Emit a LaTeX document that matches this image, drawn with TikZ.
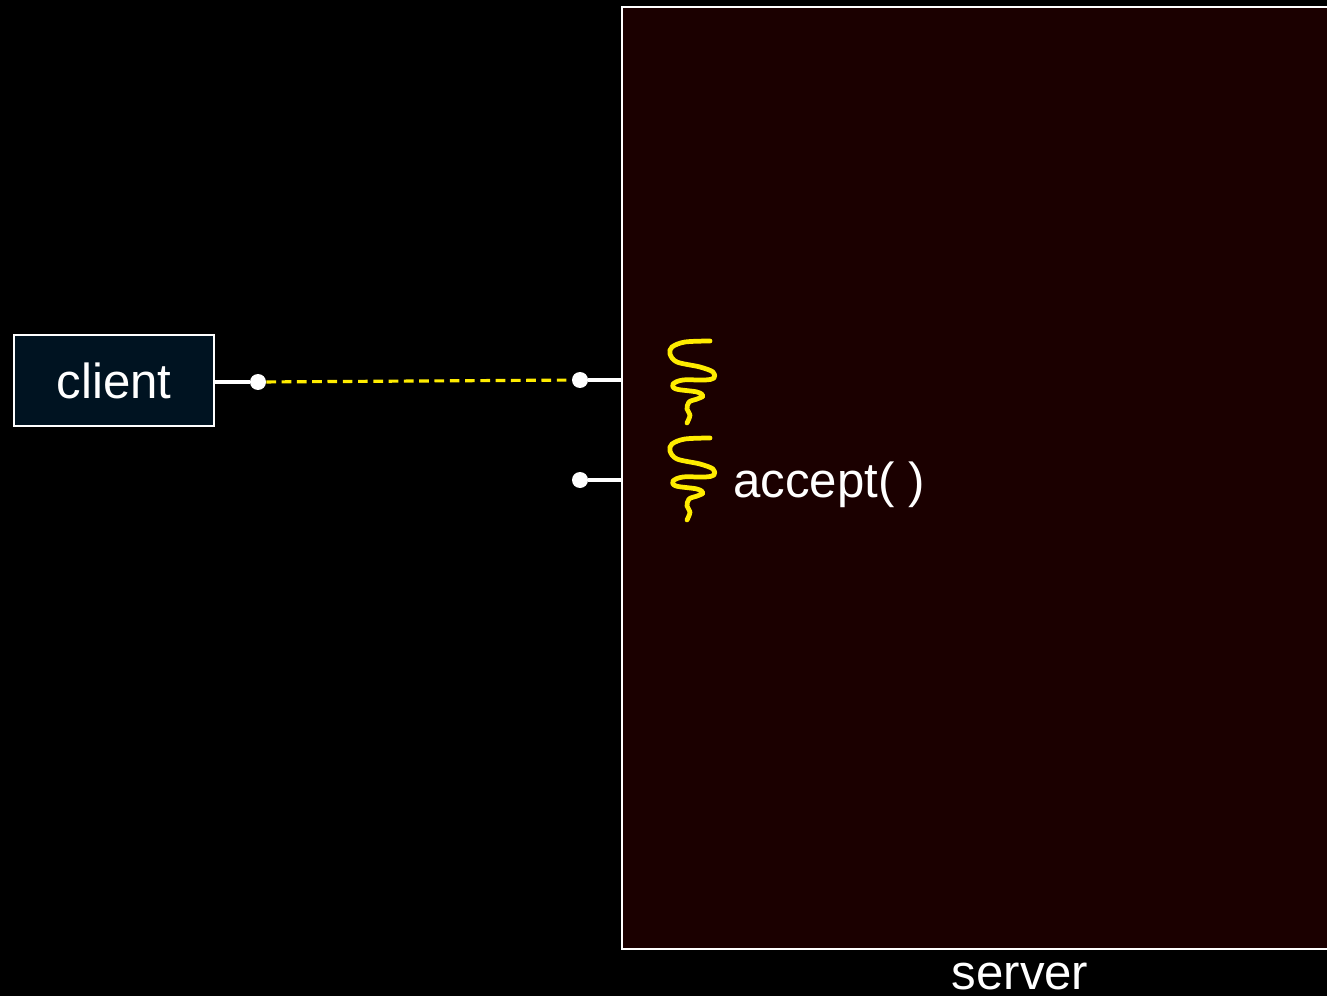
\documentclass[tikz,border=0pt]{standalone}
\usepackage{fontspec}
\setmainfont{Liberation Sans}
\definecolor{serverred}{RGB}{27,0,0}
\definecolor{clientblue}{RGB}{0,19,33}
\definecolor{threadyellow}{RGB}{255,236,0}
\begin{document}
\begin{tikzpicture}[x=0.02cm,y=-0.02cm,
    label/.style={text=white, font=\fontsize{28}{34}\selectfont},
    box/.style={draw=white, line width=1.1pt, inner sep=0pt},
    dot/.style={shape=circle, fill=white, minimum size=0.32cm, inner sep=0pt},
    wire/.style={white, line width=2pt},
    thread/.style={threadyellow, line width=2.7pt, line cap=round, line join=round}]
        \clip (0,0) rectangle (1327,996);
        \fill[black] (0,0) rectangle (1327,996);

        \node [box, fill=serverred, minimum width=14.26cm, minimum height=18.84cm] (server) at (978.5,478){};
        \node [label, anchor=base] at (1020,989) {server};
        \node [box, fill=clientblue, minimum width=4cm, minimum height=1.82cm, label] (client) at (114,380.5){client};

        \node [dot] (c1) at (258,382){};
        \node [dot] (s1) at (580,380){};
        \node [dot] (s2) at (580,480){};

        \draw[wire] (client.east |- c1) -- (c1);
        \draw[threadyellow, line width=1.8pt, dash pattern=on 5.5pt off 3.2pt] (c1) -- (s1);
        \draw[wire] (s1) -- (s1 -| server.west);
        \draw[wire] (s2) -- (s2 -| server.west);

        \foreach \dy in {0,97}
            \draw[thread, yshift=-\dy*0.02cm] plot[smooth, tension=0.55] coordinates {
                (710,341) (685,342) (672,347) (670,354) (677,362) (700,367) (713,372)
                (714,378) (705,380) (683,380) (673,384) (676,389) (697,392) (703,396)
                (697,399) (689,402) (687,409) (690,415) (687,423)};

        \node [label, anchor=base west] at (727,497) {accept( )};
\end{tikzpicture}
\end{document}
